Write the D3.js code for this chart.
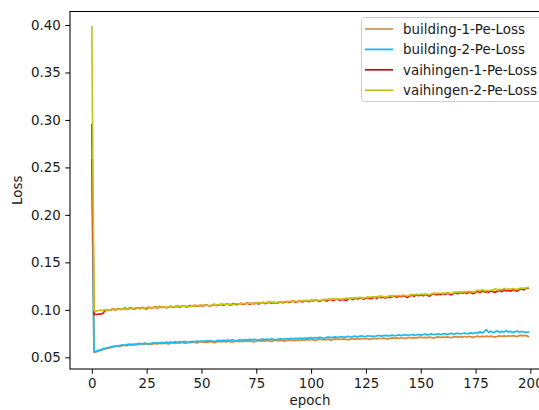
<!DOCTYPE html>
<html>
<head>
<meta charset="utf-8">
<script src="https://cdn.jsdelivr.net/npm/d3@7"></script>
<style>
  html, body { margin: 0; padding: 0; background: #fff; overflow: hidden; }
  svg { display: block; }
  text { font-family: "DejaVu Sans", sans-serif; fill: #1a1a1a; }
</style>
</head>
<body>
<div id="chart"></div>
<script>
// ---------- data ----------
const seriesNames = ["building-1-Pe-Loss", "building-2-Pe-Loss", "vaihingen-1-Pe-Loss", "vaihingen-2-Pe-Loss"];
const seriesColors = ["#dc883c", "#1cbcef", "#e8120f", "#c6c614"];
const legendColors = ["#c99a5a", "#12b8f0", "#b01418", "#c4c41c"];
const xTicks = [0, 25, 50, 75, 100, 125, 150, 175, 200];
const yTicks = [0.05, 0.10, 0.15, 0.20, 0.25, 0.30, 0.35, 0.40];

const building1 = [0.2550,
 0.0553,0.0558,0.0566,0.0572,0.0580,0.0589,0.0594,0.0600,0.0604,0.0611,
 0.0614,0.0619,0.0616,0.0624,0.0628,0.0622,0.0630,0.0634,0.0629,0.0636,
 0.0633,0.0639,0.0643,0.0636,0.0645,0.0640,0.0634,0.0643,0.0647,0.0641,
 0.0648,0.0644,0.0650,0.0646,0.0640,0.0651,0.0654,0.0648,0.0655,0.0650,
 0.0657,0.0652,0.0648,0.0658,0.0654,0.0660,0.0656,0.0651,0.0661,0.0665,
 0.0658,0.0663,0.0659,0.0666,0.0661,0.0655,0.0664,0.0668,0.0662,0.0667,
 0.0663,0.0669,0.0664,0.0658,0.0667,0.0671,0.0665,0.0670,0.0666,0.0672,
 0.0668,0.0674,0.0669,0.0663,0.0672,0.0676,0.0670,0.0675,0.0671,0.0677,
 0.0673,0.0668,0.0677,0.0680,0.0674,0.0679,0.0675,0.0670,0.0680,0.0683,
 0.0677,0.0681,0.0676,0.0684,0.0679,0.0686,0.0681,0.0687,0.0683,0.0689,
 0.0684,0.0679,0.0688,0.0691,0.0685,0.0690,0.0686,0.0692,0.0681,0.0690,
 0.0694,0.0688,0.0693,0.0689,0.0695,0.0690,0.0684,0.0694,0.0697,0.0691,
 0.0696,0.0692,0.0698,0.0693,0.0699,0.0694,0.0688,0.0697,0.0700,0.0695,
 0.0701,0.0696,0.0702,0.0698,0.0692,0.0701,0.0704,0.0699,0.0705,0.0700,
 0.0706,0.0701,0.0697,0.0706,0.0709,0.0703,0.0708,0.0704,0.0710,0.0712,
 0.0706,0.0711,0.0707,0.0713,0.0708,0.0702,0.0712,0.0715,0.0709,0.0714,
 0.0710,0.0716,0.0711,0.0706,0.0715,0.0718,0.0712,0.0717,0.0713,0.0719,
 0.0714,0.0720,0.0715,0.0710,0.0719,0.0722,0.0716,0.0721,0.0717,0.0723,
 0.0718,0.0724,0.0719,0.0713,0.0722,0.0726,0.0720,0.0725,0.0721,0.0727,
 0.0722,0.0728,0.0723,0.0718,0.0729,0.0732,0.0726,0.0731,0.0718];

const building2 = [0.2580,
 0.0560,0.0566,0.0574,0.0579,0.0590,0.0594,0.0601,0.0603,0.0612,0.0616,
 0.0620,0.0618,0.0627,0.0630,0.0626,0.0634,0.0638,0.0633,0.0640,0.0637,
 0.0642,0.0646,0.0640,0.0649,0.0644,0.0638,0.0647,0.0651,0.0648,0.0655,
 0.0650,0.0657,0.0652,0.0659,0.0655,0.0661,0.0654,0.0662,0.0658,0.0664,
 0.0660,0.0667,0.0662,0.0658,0.0666,0.0669,0.0664,0.0671,0.0667,0.0672,
 0.0668,0.0674,0.0670,0.0676,0.0672,0.0666,0.0675,0.0679,0.0673,0.0680,
 0.0676,0.0682,0.0677,0.0684,0.0679,0.0674,0.0683,0.0687,0.0680,0.0686,
 0.0682,0.0689,0.0684,0.0690,0.0685,0.0680,0.0688,0.0692,0.0686,0.0691,
 0.0687,0.0694,0.0689,0.0683,0.0692,0.0696,0.0690,0.0695,0.0698,0.0692,
 0.0699,0.0694,0.0700,0.0696,0.0702,0.0697,0.0703,0.0699,0.0705,0.0707,
 0.0701,0.0708,0.0704,0.0710,0.0706,0.0700,0.0709,0.0713,0.0707,0.0711,
 0.0715,0.0709,0.0714,0.0718,0.0711,0.0716,0.0720,0.0714,0.0719,0.0723,
 0.0716,0.0721,0.0725,0.0718,0.0722,0.0727,0.0720,0.0724,0.0719,0.0726,
 0.0730,0.0723,0.0728,0.0732,0.0725,0.0729,0.0734,0.0727,0.0731,0.0736,
 0.0729,0.0733,0.0738,0.0731,0.0735,0.0740,0.0733,0.0737,0.0742,0.0734,
 0.0739,0.0744,0.0736,0.0741,0.0746,0.0738,0.0743,0.0748,0.0740,0.0745,
 0.0750,0.0742,0.0747,0.0752,0.0744,0.0749,0.0754,0.0746,0.0751,0.0756,
 0.0748,0.0753,0.0758,0.0750,0.0762,0.0755,0.0768,0.0757,0.0772,0.0790,
 0.0764,0.0775,0.0760,0.0770,0.0778,0.0762,0.0773,0.0766,0.0780,0.0768,
 0.0774,0.0762,0.0770,0.0777,0.0765,0.0772,0.0769,0.0764,0.0767];

const vaihingen1 = [0.2950,
 0.0953,0.0951,0.0954,0.0956,0.0962,0.0990,0.1000,0.0995,0.1003,0.1008,
 0.1000,0.1012,0.1004,0.1009,0.1018,0.1006,0.1015,0.1020,0.1008,0.1016,
 0.1020,0.1012,0.1025,0.1016,0.1011,0.1027,0.1019,0.1024,0.1030,0.1021,
 0.1036,0.1025,0.1030,0.1022,0.1028,0.1038,0.1027,0.1033,0.1040,0.1029,
 0.1038,0.1043,0.1031,0.1036,0.1044,0.1038,0.1047,0.1040,0.1045,0.1048,
 0.1042,0.1054,0.1046,0.1040,0.1049,0.1057,0.1045,0.1052,0.1058,0.1049,
 0.1056,0.1062,0.1050,0.1058,0.1065,0.1055,0.1061,0.1068,0.1058,0.1066,
 0.1072,0.1060,0.1069,0.1065,0.1073,0.1062,0.1070,0.1078,0.1066,0.1075,
 0.1081,0.1070,0.1079,0.1071,0.1076,0.1084,0.1075,0.1082,0.1088,0.1078,
 0.1087,0.1092,0.1080,0.1088,0.1095,0.1084,0.1093,0.1098,0.1086,0.1100,
 0.1094,0.1106,0.1096,0.1090,0.1101,0.1109,0.1092,0.1104,0.1111,0.1098,
 0.1108,0.1115,0.1100,0.1112,0.1106,0.1098,0.1116,0.1122,0.1108,0.1125,
 0.1114,0.1120,0.1128,0.1112,0.1124,0.1131,0.1118,0.1126,0.1135,0.1120,
 0.1142,0.1128,0.1134,0.1124,0.1138,0.1130,0.1140,0.1146,0.1132,0.1145,
 0.1138,0.1152,0.1140,0.1130,0.1148,0.1155,0.1142,0.1160,0.1150,0.1158,
 0.1148,0.1163,0.1155,0.1144,0.1162,0.1170,0.1158,0.1166,0.1160,0.1172,
 0.1162,0.1175,0.1168,0.1158,0.1174,0.1182,0.1170,0.1185,0.1176,0.1184,
 0.1172,0.1188,0.1180,0.1170,0.1186,0.1195,0.1182,0.1198,0.1188,0.1192,
 0.1185,0.1200,0.1190,0.1184,0.1198,0.1205,0.1192,0.1210,0.1200,0.1206,
 0.1196,0.1212,0.1204,0.1198,0.1215,0.1222,0.1210,0.1226,0.1230];

const vaihingen2 = [0.3980,
 0.0990,0.0986,0.0993,0.0997,0.0994,0.0999,0.1003,0.0998,0.1004,0.1006,
 0.1002,0.1009,0.1005,0.1011,0.1007,0.1013,0.1009,0.1016,0.1012,0.1022,
 0.1017,0.1023,0.1019,0.1014,0.1022,0.1026,0.1021,0.1027,0.1023,0.1032,
 0.1027,0.1033,0.1029,0.1024,0.1031,0.1036,0.1031,0.1037,0.1033,0.1040,
 0.1035,0.1041,0.1037,0.1032,0.1040,0.1045,0.1040,0.1046,0.1042,0.1050,
 0.1045,0.1051,0.1047,0.1042,0.1050,0.1055,0.1050,0.1056,0.1052,0.1060,
 0.1055,0.1061,0.1057,0.1052,0.1060,0.1066,0.1061,0.1067,0.1063,0.1070,
 0.1065,0.1072,0.1068,0.1063,0.1071,0.1076,0.1071,0.1077,0.1073,0.1080,
 0.1075,0.1082,0.1078,0.1073,0.1081,0.1087,0.1082,0.1088,0.1084,0.1090,
 0.1086,0.1093,0.1089,0.1084,0.1092,0.1098,0.1093,0.1099,0.1095,0.1103,
 0.1099,0.1106,0.1102,0.1097,0.1105,0.1111,0.1106,0.1113,0.1108,0.1115,
 0.1111,0.1118,0.1114,0.1109,0.1117,0.1124,0.1119,0.1126,0.1121,0.1128,
 0.1124,0.1131,0.1127,0.1122,0.1130,0.1137,0.1132,0.1139,0.1134,0.1140,
 0.1136,0.1144,0.1139,0.1134,0.1142,0.1149,0.1144,0.1151,0.1146,0.1152,
 0.1148,0.1156,0.1151,0.1146,0.1155,0.1162,0.1157,0.1164,0.1159,0.1165,
 0.1161,0.1169,0.1164,0.1159,0.1168,0.1175,0.1170,0.1177,0.1172,0.1178,
 0.1174,0.1182,0.1177,0.1172,0.1181,0.1189,0.1184,0.1191,0.1186,0.1192,
 0.1188,0.1196,0.1191,0.1186,0.1195,0.1210,0.1198,0.1213,0.1200,0.1205,
 0.1201,0.1209,0.1204,0.1222,0.1208,0.1216,0.1211,0.1226,0.1214,0.1220,
 0.1216,0.1224,0.1219,0.1214,0.1226,0.1230,0.1225,0.1232,0.1235];

const allSeries = [building1, building2, vaihingen1, vaihingen2];

// ---------- layout ----------
const W = 539, H = 410;
const plot = { left: 70, right: 550, top: 11.5, bottom: 369 };
const FS = 13.4;

const svg = d3.select("#chart").append("svg")
  .attr("width", W).attr("height", H)
  .attr("viewBox", `0 0 ${W} ${H}`);

const x = d3.scaleLinear().domain([-9.95, 208.95]).range([plot.left, plot.right]);
const y = d3.scaleLinear().domain([0.0377, 0.4142]).range([plot.bottom, plot.top]);

// lines
const clipId = "plotclip";
svg.append("clipPath").attr("id", clipId).append("rect")
  .attr("x", plot.left).attr("y", plot.top)
  .attr("width", plot.right - plot.left).attr("height", plot.bottom - plot.top);

const line = d3.line().x((d, i) => x(i)).y(d => y(d));
const gLines = svg.append("g").attr("clip-path", `url(#${clipId})`);
allSeries.forEach((s, k) => {
  gLines.append("path").datum(s)
    .attr("d", line)
    .attr("fill", "none")
    .attr("stroke", seriesColors[k])
    .attr("stroke-width", 1.75)
    .attr("stroke-linejoin", "round")
    .attr("stroke-linecap", "square");
});

// axes
const xAxis = d3.axisBottom(x).tickValues(xTicks).tickFormat(d3.format("d")).tickSize(4.7).tickPadding(4.5);
const yAxis = d3.axisLeft(y).tickValues(yTicks).tickFormat(d3.format(".2f")).tickSize(4.7).tickPadding(4.5);

const gx = svg.append("g").attr("transform", `translate(0,${plot.bottom})`).call(xAxis);
const gy = svg.append("g").attr("transform", `translate(${plot.left},0)`).call(yAxis);
[gx, gy].forEach(g => {
  g.select(".domain").remove();
  g.selectAll(".tick line").attr("stroke", "#000").attr("stroke-width", 1);
  g.selectAll(".tick text").attr("font-size", FS).attr("font-family", "DejaVu Sans, sans-serif").attr("fill", "#1a1a1a");
});

// spines
svg.append("rect")
  .attr("x", plot.left).attr("y", plot.top)
  .attr("width", plot.right - plot.left).attr("height", plot.bottom - plot.top)
  .attr("fill", "none").attr("stroke", "#000").attr("stroke-width", 1.05);

// axis labels
svg.append("text")
  .attr("x", (plot.left + plot.right) / 2).attr("y", 405)
  .attr("text-anchor", "middle").attr("font-size", FS).text("epoch");
svg.append("text")
  .attr("transform", `translate(22,${(plot.top + plot.bottom) / 2}) rotate(-90)`)
  .attr("text-anchor", "middle").attr("font-size", FS).text("Loss");

// legend
const lg = svg.append("g");
lg.append("rect")
  .attr("x", 361.5).attr("y", 17.5).attr("width", 182).attr("height", 84)
  .attr("rx", 3).attr("fill", "#fff").attr("fill-opacity", 0.8)
  .attr("stroke", "#cccccc").attr("stroke-width", 1);
seriesNames.forEach((name, k) => {
  const cy = 29 + k * 20.4;
  lg.append("line")
    .attr("x1", 365).attr("x2", 393).attr("y1", cy).attr("y2", cy)
    .attr("stroke", legendColors[k]).attr("stroke-width", 1.75);
  lg.append("text")
    .attr("x", 403).attr("y", cy + 4.8)
    .attr("font-size", FS).text(name);
});
</script>
</body>
</html>
